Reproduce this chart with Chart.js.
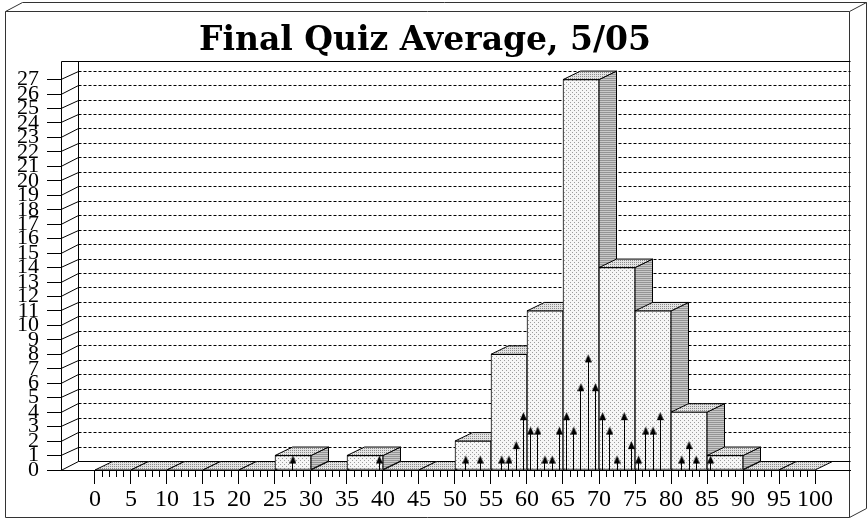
<!DOCTYPE html>
<html>
<head>
<meta charset="utf-8">
<script src="https://cdn.jsdelivr.net/npm/chart.js@4.4.0/dist/chart.umd.min.js"></script>
<style>
html, body { margin: 0; padding: 0; background: #fff; }
#wrap { width: 867px; height: 518px; }
</style>
</head>
<body>
<div id="wrap"><canvas id="quiz"></canvas></div>
<script>
// histogram bins (width 5) and how many students fell in each
var binStart = [0, 5, 10, 15, 20, 25, 30, 35, 40, 45, 50, 55, 60, 65, 70, 75, 80, 85, 90, 95];
var binCount = [0, 0, 0, 0, 0, 1, 0, 1, 0, 0, 2, 8, 11, 27, 14, 11, 4, 1, 0, 0];

// individual scores (arrows) and how many students got each one
var scores = [27, 39, 51, 53, 56, 57, 58, 59, 60, 61, 62, 63, 64, 65, 66, 67, 68, 69,
              70, 71, 72, 73, 74, 75, 76, 77, 78, 81, 82, 83, 85];
var scoreCount = [1, 1, 1, 1, 1, 1, 2, 4, 3, 3, 1, 1, 3, 4, 3, 6, 8, 6,
                  4, 3, 1, 4, 2, 1, 3, 3, 4, 1, 2, 1, 1];

var xTicks = [0, 5, 10, 15, 20, 25, 30, 35, 40, 45, 50, 55, 60, 65, 70, 75, 80, 85, 90, 95, 100];
var yMax = 27;
var binWidth = 5;

var depthX = 17.5, depthY = 8.5;

function makePattern(w, h, bg, fg, dots) {
    var c = document.createElement('canvas');
    c.width = w; c.height = h;
    var g = c.getContext('2d');
    g.fillStyle = bg;
    g.fillRect(0, 0, w, h);
    g.fillStyle = fg;
    dots.forEach(function (p) { g.fillRect(p[0], p[1], p[2] || 1, 1); });
    return g.createPattern(c, 'repeat');
}

var frontFill = makePattern(4, 4, '#f6f6f6', '#9c9c9c', [[0, 0], [2, 2]]);
var topFill = makePattern(2, 2, '#e4e4e4', '#8a8a8a', [[0, 0]]);
var sideFill = makePattern(2, 2, '#c9c9c9', '#949494', [[0, 0, 2]]);

var arrowHead = (function () {
    var c = document.createElement('canvas');
    c.width = 7; c.height = 18;
    var g = c.getContext('2d');
    g.fillStyle = '#000';
    g.beginPath();
    g.moveTo(3.5, 9);
    g.lineTo(7, 17);
    g.lineTo(0, 17);
    g.closePath();
    g.fill();
    return c;
})();

function px(v) { return Math.round(v - 0.5) + 0.5; }

var box3d = {
    id: 'box3d',
    beforeDraw: function (chart) {
        var ctx = chart.ctx, a = chart.chartArea, x = chart.scales.x, y = chart.scales.y;
        var W = chart.width, H = chart.height;
        ctx.save();
        ctx.fillStyle = '#fff';
        ctx.fillRect(0, 0, W, H);

        // outer 3d frame
        var fl = 5.5, ft = 11.5, fr = W - 17.5, fb = H - 0.5;
        ctx.strokeStyle = '#333';
        ctx.lineWidth = 1;
        ctx.beginPath();
        ctx.rect(fl, ft, fr - fl, fb - ft);
        ctx.moveTo(fl, ft); ctx.lineTo(fl + 17, ft - 9); ctx.lineTo(fr + 17, ft - 9);
        ctx.lineTo(fr + 17, fb - 9); ctx.lineTo(fr, fb);
        ctx.moveTo(fr, ft); ctx.lineTo(fr + 17, ft - 9);
        ctx.stroke();

        // side wall and back wall
        var y0 = y.getPixelForValue(0);
        var back = px(a.left + depthX), top = px(a.top - 18), right = px(a.right);
        ctx.strokeStyle = '#000';
        ctx.beginPath();
        ctx.moveTo(px(a.left), top); ctx.lineTo(right, top);
        ctx.moveTo(px(a.left), top); ctx.lineTo(px(a.left), y0);
        ctx.moveTo(back, top); ctx.lineTo(back, px(y0 - depthY));
        ctx.lineTo(right, px(y0 - depthY));
        for (var k = 0; k <= yMax; k++) {
            var yk = y.getPixelForValue(k);
            ctx.moveTo(a.left, px(yk)); ctx.lineTo(a.left + depthX, px(yk - depthY));
        }
        ctx.stroke();

        ctx.setLineDash([3, 2]);
        ctx.beginPath();
        for (var j = 1; j <= yMax; j++) {
            var yj = px(y.getPixelForValue(j) - depthY);
            ctx.moveTo(back, yj); ctx.lineTo(right, yj);
        }
        ctx.stroke();
        ctx.setLineDash([]);

        // minor ticks on the score axis
        ctx.beginPath();
        for (var v = xTicks[0]; v <= xTicks[xTicks.length - 1]; v++) {
            if (v % 5 === 0) continue;
            var xv = px(x.getPixelForValue(v));
            ctx.moveTo(xv, y0); ctx.lineTo(xv, y0 + 7);
        }
        ctx.stroke();
        ctx.restore();
    },
    beforeDatasetDraw: function (chart, args) {
        var ctx = chart.ctx, y = chart.scales.y;
        var y0 = y.getPixelForValue(0);
        ctx.save();
        if (args.meta.type === 'bar') {
            ctx.strokeStyle = '#000';
            ctx.lineWidth = 1;
            args.meta.data.forEach(function (el) {
                var l = el.x - el.width / 2, r = el.x + el.width / 2, t = el.y, b = el.base;
                // side face
                if (b - t > 0.5) {
                    ctx.beginPath();
                    ctx.moveTo(r, t); ctx.lineTo(r + depthX, t - depthY);
                    ctx.lineTo(r + depthX, b - depthY); ctx.lineTo(r, b);
                    ctx.closePath();
                    ctx.fillStyle = sideFill;
                    ctx.fill(); ctx.stroke();
                }
                // top face
                ctx.beginPath();
                ctx.moveTo(l, t); ctx.lineTo(l + depthX, t - depthY);
                ctx.lineTo(r + depthX, t - depthY); ctx.lineTo(r, t);
                ctx.closePath();
                ctx.fillStyle = topFill;
                ctx.fill(); ctx.stroke();
            });
        } else {
            ctx.strokeStyle = '#000';
            ctx.lineWidth = 1;
            ctx.beginPath();
            args.meta.data.forEach(function (el) {
                var xs = px(el.x);
                ctx.moveTo(xs, y0); ctx.lineTo(xs, el.y + 3);
            });
            ctx.stroke();
        }
        ctx.restore();
    }
};

var ctx = document.getElementById('quiz');
var quizChart = new Chart(ctx, {
    type: 'bar',
    data: {
        datasets: [
            {
                type: 'scatter',
                label: 'Scores',
                data: scores.map(function (s, i) { return { x: s + 0.5, y: scoreCount[i] }; }),
                pointStyle: arrowHead,
                pointRadius: 4,
                order: 0
            },
            {
                type: 'bar',
                label: 'Students',
                data: binStart.map(function (s, i) { return { x: s + binWidth / 2, y: binCount[i] }; }),
                backgroundColor: frontFill,
                borderColor: '#000',
                borderWidth: 1,
                borderSkipped: false,
                barPercentage: 1,
                categoryPercentage: 1,
                order: 1
            }
        ]
    },
    options: {
        responsive: true,
        maintainAspectRatio: false,
        animation: false,
        events: [],
        layout: { padding: { left: 0, right: 17, top: 0, bottom: 0 } },
        plugins: {
            legend: { display: false },
            tooltip: { enabled: false },
            title: {
                display: true,
                text: 'Final Quiz Average, 5/05',
                color: '#000',
                font: { family: 'DejaVu Serif', size: 33, weight: 'bold' },
                padding: { top: 22, bottom: 18 }
            }
        },
        scales: {
            x: {
                type: 'linear',
                offset: false,
                min: -4.72,
                max: 104.86,
                afterBuildTicks: function (s) {
                    s.ticks = xTicks.map(function (v) { return { value: v }; });
                },
                afterFit: function (s) { s.height = 48; },
                grid: { offset: false, drawOnChartArea: false, tickLength: 14, color: '#000' },
                border: { color: '#000' },
                ticks: {
                    autoSkip: false,
                    maxRotation: 0,
                    padding: 1,
                    color: '#000',
                    font: { family: 'Liberation Serif', size: 24 }
                }
            },
            y: {
                min: 0,
                max: yMax,
                afterFit: function (s) { s.width = 61; },
                grid: { drawOnChartArea: false, tickLength: 14, color: '#000' },
                border: { color: '#000' },
                ticks: {
                    stepSize: 1,
                    autoSkip: false,
                    padding: 8,
                    color: '#000',
                    font: { family: 'Liberation Serif', size: 22 }
                }
            }
        }
    },
    plugins: [box3d]
});
</script>
</body>
</html>
